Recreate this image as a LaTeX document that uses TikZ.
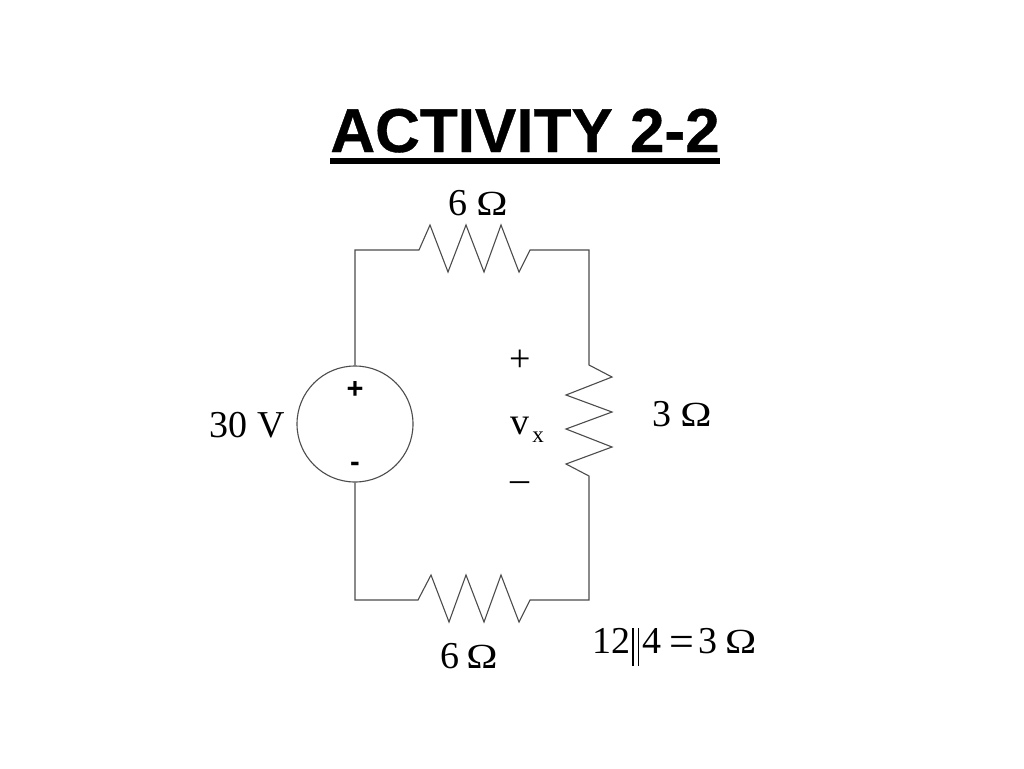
\documentclass[tikz,border=0pt]{standalone}
\usepackage{fontspec}
\setmainfont{Liberation Serif}
\newfontfamily\headfont{Liberation Sans}
\newfontfamily\titlefont[FakeBold=0.6]{Liberation Sans Bold}
\newcommand{\ohm}{\scalebox{1}[0.84]{\fontsize{42}{42}\selectfont Ω}}
\tikzset{
  wire/.style={draw=black!70,line width=1.1pt,line join=miter},
  lbl/.style={inner sep=0pt,outer sep=0pt,anchor=base,font=\fontsize{38}{38}\selectfont},
  lblsmall/.style={inner sep=0pt,outer sep=0pt,anchor=base,font=\fontsize{23}{23}\selectfont},
  pol/.style={inner sep=0pt,outer sep=0pt,anchor=base,font=\headfont\bfseries\fontsize{29}{29}\selectfont},
  src/.style={circle,draw=black!70,line width=1.1pt,minimum size=116pt,inner sep=0pt}
}
\begin{document}
\begin{tikzpicture}[x=1pt,y=-1pt]
\useasboundingbox[fill=white] (0,0) rectangle (1024,768);
% title
\node[inner sep=0pt,anchor=base] (title) at (525,152) {\titlefont\fontsize{62}{62}\selectfont ACTIVITY 2-2};
\fill (330,158) rectangle (720,164);
% source
\node[src] (vs) at (355,424) {};
\coordinate (tl) at (355,250);
\coordinate (tr) at (589,250);
\coordinate (bl) at (355,600);
\coordinate (br) at (589,600);
\coordinate (t0) at (419,250);
\coordinate (t1) at (530,250);
\coordinate (r0) at (589,365);
\coordinate (r1) at (589,476);
\coordinate (b0) at (418,600);
\coordinate (b1) at (530,600);
\draw[wire] (vs.north) -- (tl) -- (t0) -- (430,225) -- (448,272) -- (466,225) -- (484,272) -- (501,225) -- (519,272) -- (t1) -- (tr) -- (r0)
  -- (612,377) -- (566,395) -- (612,412) -- (566,429) -- (612,447) -- (566,464) -- (r1) -- (br) -- (b1)
  -- (519,622) -- (501,575) -- (484,622) -- (466,575) -- (449,622) -- (431,575) -- (b0) -- (bl) -- (vs.south);
% labels
\node[lbl] (rtop) at (478,215) {6\kern9pt\ohm};
\node[lbl] (rbot) at (469,668) {6\kern7pt\ohm};
\node[lbl] (rright) at (682,426) {3\kern9pt\ohm};
\node[lbl] (vlab) at (247,437) {30 V};
\node[pol] (plus) at (355,398) {+};
\node[pol] (minus) at (355,471) {-};
\node[lbl] (vplus) at (520,371) {+};
\node[lbl] (vv) at (520,434) {v};
\node[lblsmall] (vx) at (538,442) {x};
\node[lbl] (vminus) at (520,491) {\textendash};
\node[lbl,anchor=base west] (par) at (592,653) {12\kern2pt\rule[-13pt]{1.6pt}{38pt}\kern4pt\rule[-13pt]{1.6pt}{38pt}\kern3pt 4\kern8pt\raisebox{-3.5pt}{\fontsize{44}{44}\selectfont =}\kern4pt 3\kern8pt\ohm};
\end{tikzpicture}
\end{document}
